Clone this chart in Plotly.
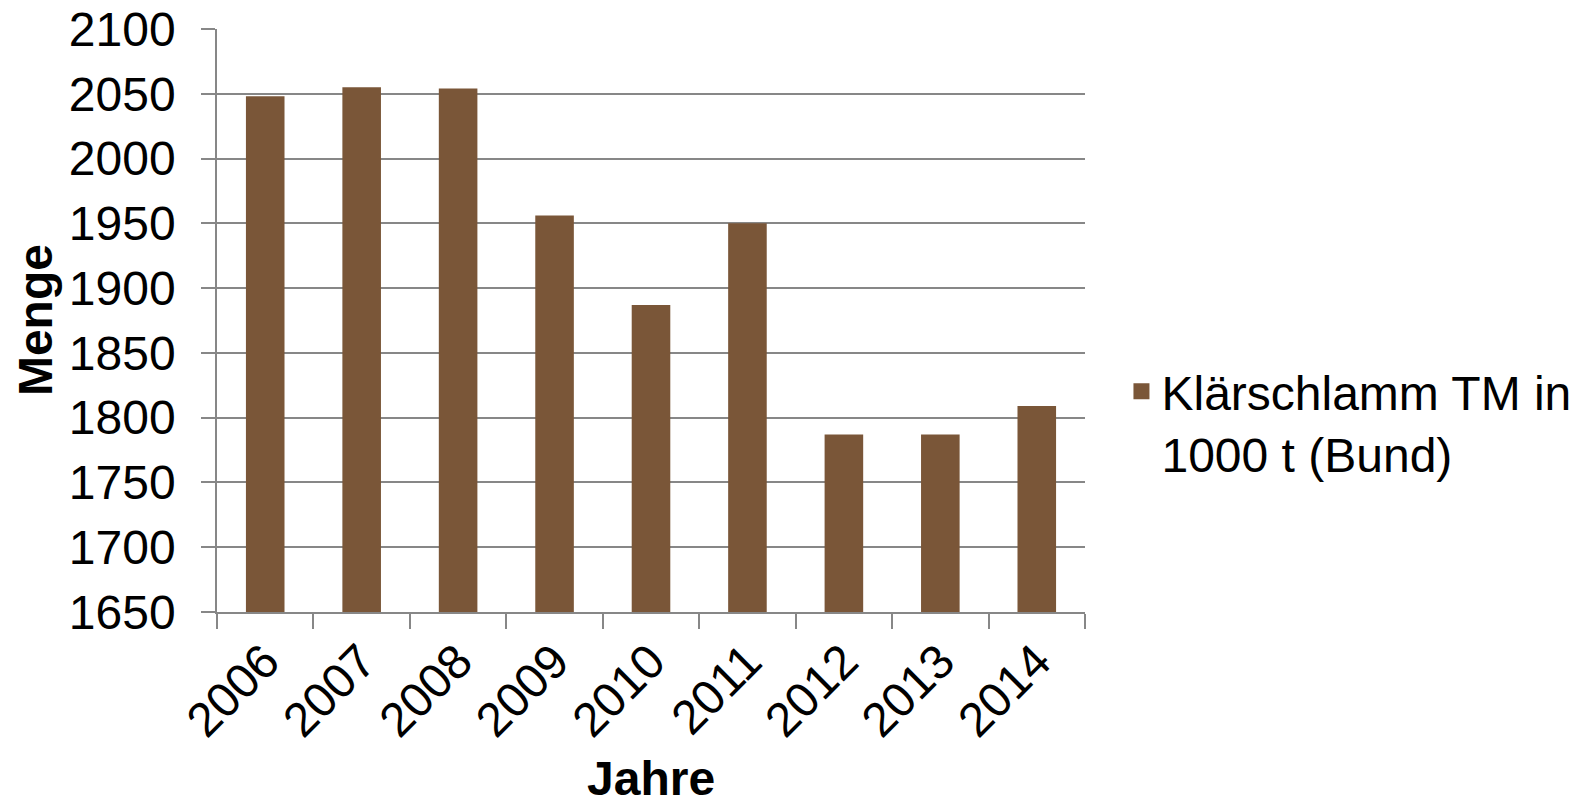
import plotly.graph_objects as go

# Klärschlamm-Aufkommen (Trockenmasse) in Deutschland, 1000 t
jahre = ["2006", "2007", "2008", "2009", "2010", "2011", "2012", "2013", "2014"]
menge = [2048, 2055, 2054, 1956, 1887, 1950, 1787, 1787, 1809]
serie = "Klärschlamm TM in<br>1000 t (Bund)"

BRAUN = "#7a5638"
GRAU = "#878787"
FONT = "Liberation Sans, Arial, sans-serif"
FS = 48

fig = go.Figure()
fig.add_trace(
    go.Bar(
        x=jahre,
        y=menge,
        name=serie,
        marker=dict(color=BRAUN, line=dict(width=0)),
        showlegend=False,
        legendgroup="ks",
    )
)
# legend entry with a larger square swatch
fig.add_trace(
    go.Scatter(
        x=[None],
        y=[None],
        mode="markers",
        name=serie,
        legendgroup="ks",
        marker=dict(symbol="square", size=24, color=BRAUN),
        showlegend=True,
    )
)

fig.update_layout(
    width=1589,
    height=810,
    margin=dict(l=217, r=504, t=29, b=198, autoexpand=False),
    paper_bgcolor="white",
    plot_bgcolor="white",
    bargap=0.6,
    font=dict(family=FONT, size=FS, color="black"),
    showlegend=True,
    legend=dict(
        x=1.042,
        y=0.325,
        xanchor="left",
        yanchor="middle",
        valign="top",
        font=dict(size=FS),
        itemsizing="trace",
        itemwidth=30,
    ),
)

fig.update_xaxes(
    type="category",
    tickangle=-45,
    showline=True,
    linecolor=GRAU,
    linewidth=1.5,
    ticks="outside",
    tickson="boundaries",
    ticklen=15,
    tickcolor=GRAU,
    tickwidth=1.5,
    showgrid=False,
    tickfont=dict(size=FS),
)

fig.update_yaxes(
    range=[1650, 2100],
    dtick=50,
    showline=True,
    linecolor=GRAU,
    linewidth=1.5,
    ticks="outside",
    ticklen=14,
    tickcolor=GRAU,
    tickwidth=1.5,
    showgrid=True,
    gridcolor=GRAU,
    gridwidth=1.5,
    zeroline=False,
    tickfont=dict(size=FS),
    ticklabelstandoff=16,
)

# axis titles placed explicitly
fig.add_annotation(
    text="<b>Menge</b>", xref="paper", yref="paper",
    x=-0.209, y=0.5, xanchor="center", yanchor="middle",
    textangle=-90, showarrow=False, font=dict(size=FS),
)
fig.add_annotation(
    text="<b>Jahre</b>", xref="paper", yref="paper",
    x=0.5, y=-0.285, xanchor="center", yanchor="middle",
    showarrow=False, font=dict(size=FS),
)

fig.write_html("out.html")
